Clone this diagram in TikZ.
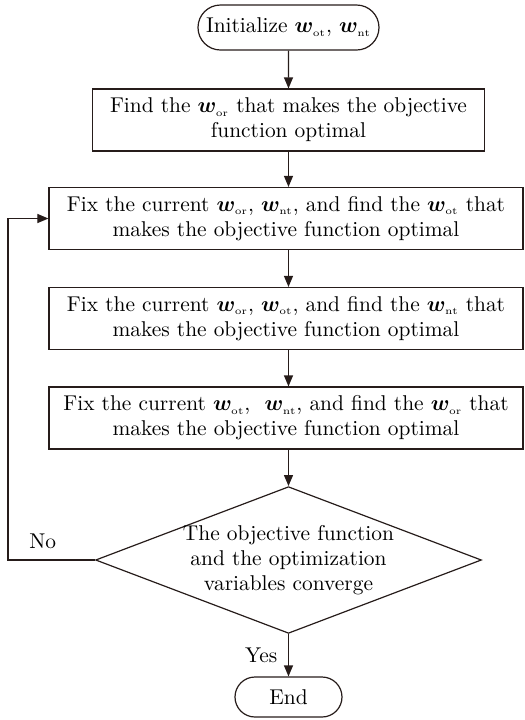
\documentclass[tikz,border=0pt]{standalone}
\usepackage{amsmath,bm}
\usetikzlibrary{shapes.geometric,shapes.misc,arrows.meta}
\definecolor{linec}{RGB}{38,28,26}
\newcommand{\wsub}[1]{\bm{w}_{\scriptscriptstyle\mathrm{#1}}}

\begin{document}
\begin{tikzpicture}[
    x=0.5pt, y=-0.5pt,
    every node/.style={font=\fontsize{10.7}{12.6}\selectfont},
    term/.style={rounded rectangle, draw=linec, semithick, minimum height=22.5pt, align=center, inner sep=2pt},
    stepbox/.style={rectangle, draw=linec, semithick, minimum height=31pt, align=center, inner sep=2pt},
    decide/.style={diamond, draw=linec, semithick, aspect=2.63, minimum width=192pt, minimum height=73pt, align=center, inner ysep=0pt, inner xsep=-2.25pt},
    flow/.style={-{Triangle[width=4.5pt,length=5.5pt]}, draw=linec, line width=0.6pt}
]
\useasboundingbox (0,0) rectangle (525,720);

% Start and first step
\node[term, minimum width=94.5pt] (init) at (288.5,27.5) {Initialize $\wsub{ot}$, $\wsub{nt}$};
\node[stepbox, minimum width=196pt] (findor) at (288.5,120) {Find the $\wsub{or}$ that makes the objective\\function optimal};

% Alternating steps
\node[stepbox, minimum width=237pt] (fixot) at (286,218.5) {Fix the current $\wsub{or}$, $\wsub{nt}$, and find the $\wsub{ot}$ that\\makes the objective function optimal};
\node[stepbox, minimum width=237pt] (fixnt) at (286,318.5) {Fix the current $\wsub{or}$, $\wsub{ot}$, and find the $\wsub{nt}$ that\\makes the objective function optimal};
\node[stepbox, minimum width=237pt] (fixor) at (286,418) {Fix the current $\wsub{ot}$,~ $\wsub{nt}$, and find the $\wsub{or}$ that\\makes the objective function optimal};

% Convergence check and end
\node[decide] (check) at (288.5,560) {The objective function\\and the optimization\\variables converge};
\node[term, minimum width=57.5pt, minimum height=20pt] (finish) at (288.5,697) {End};

\coordinate (loopx) at (8,0);

% Connectors
\draw[flow] (init) -- (init |- findor.north);
\draw[flow] (findor) -- (findor |- fixot.north);
\draw[flow] (findor |- fixot.south) -- (findor |- fixnt.north);
\draw[flow] (findor |- fixnt.south) -- (findor |- fixor.north);
\draw[flow] (findor |- fixor.south) -- (check.north);
\draw[flow] (check.south) -- node[left=2pt] {Yes} (finish.north);
\draw[flow] (check.west) -- node[above=2pt, pos=0.6] {No} (check.west -| loopx) |- (fixot.west);

\end{tikzpicture}
\end{document}
